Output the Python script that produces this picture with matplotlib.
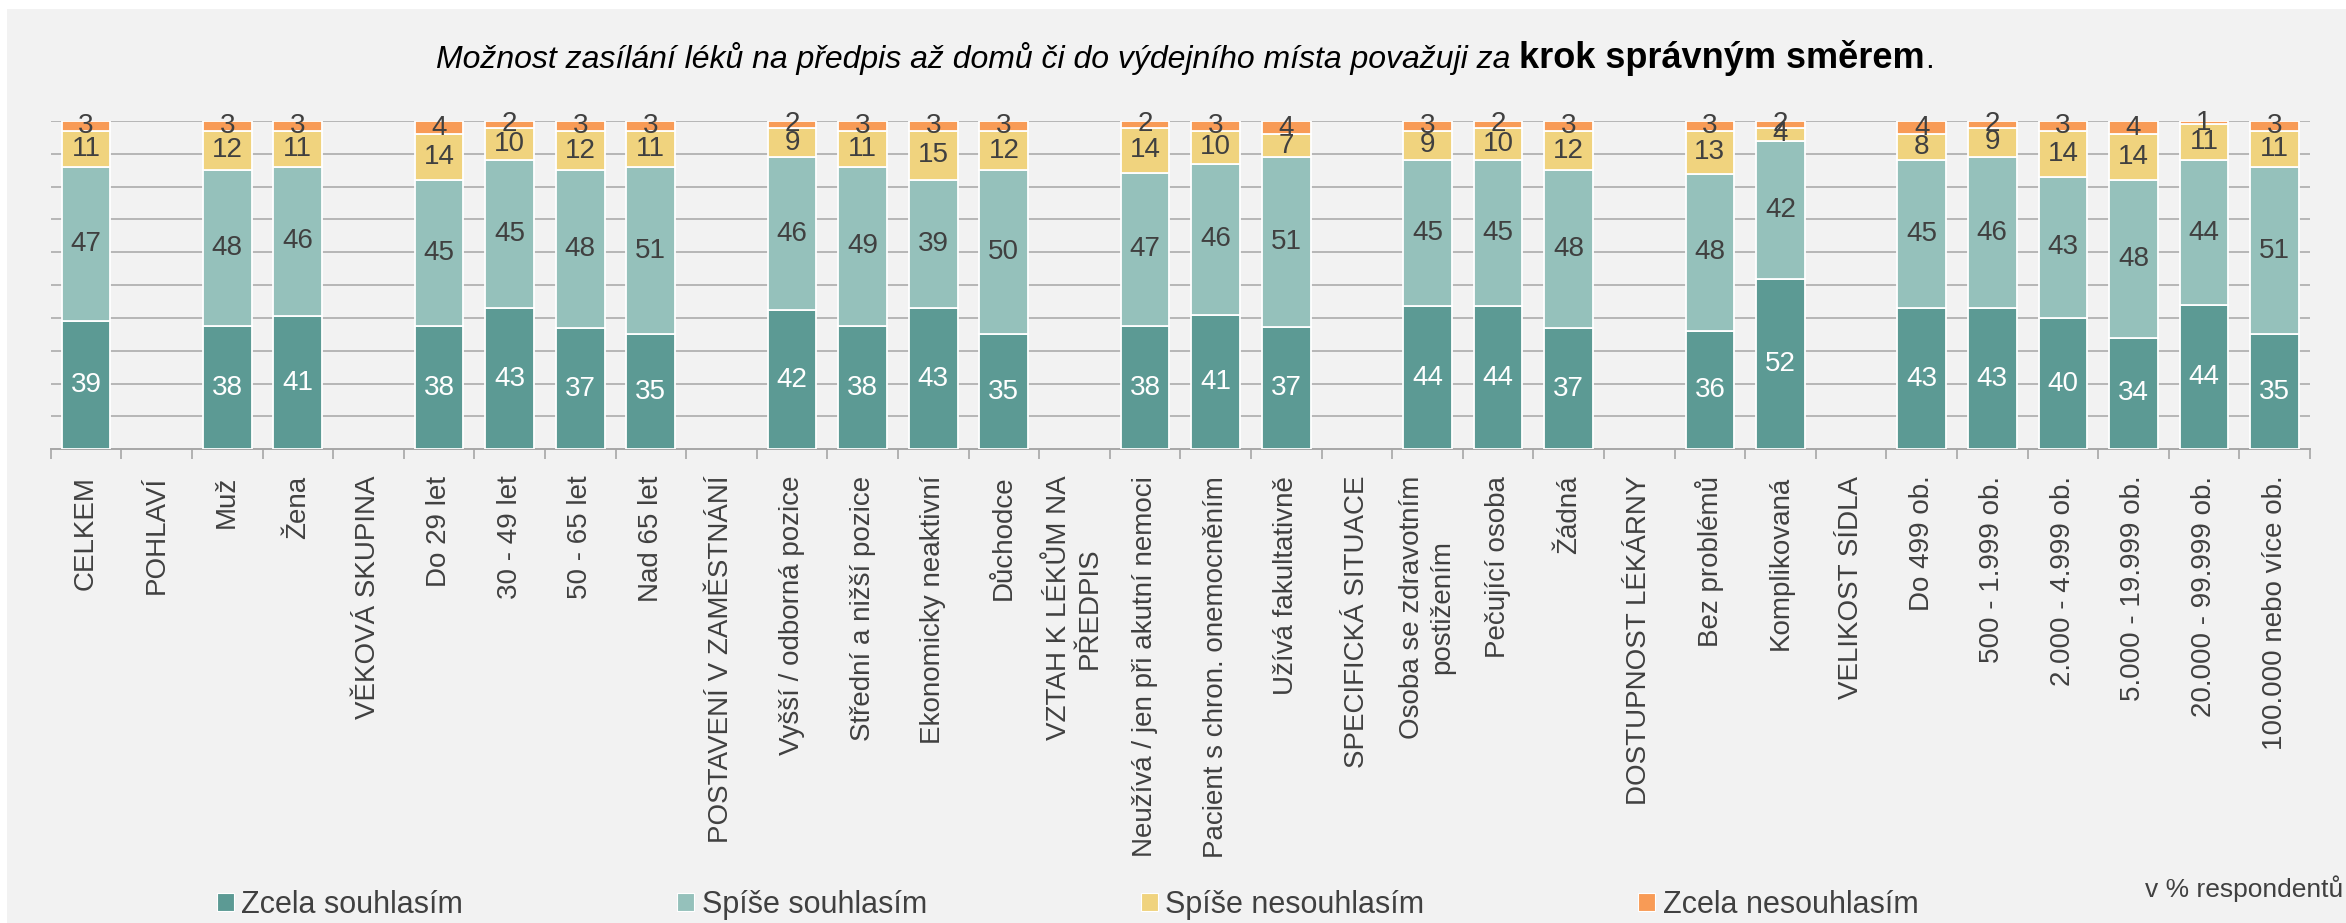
import numpy as np
import matplotlib
matplotlib.use("Agg")
import matplotlib.pyplot as plt
from matplotlib.patches import Patch, Rectangle

plt.rcParams['font.family'] = ['Liberation Sans', 'DejaVu Sans']

categories = [
    "CELKEM", "POHLAVÍ", "Muž", "Žena", "VĚKOVÁ SKUPINA",
    "Do 29 let", "30 - 49 let", "50 - 65 let", "Nad 65 let",
    "POSTAVENÍ V ZAMĚSTNÁNÍ", "Vyšší / odborná pozice", "Střední a nižší pozice",
    "Ekonomicky neaktivní", "Důchodce", "VZTAH K LÉKŮM NA\nPŘEDPIS",
    "Neužívá / jen při akutní nemoci", "Pacient s chron. onemocněním",
    "Užívá fakultativně", "SPECIFICKÁ SITUACE", "Osoba se zdravotním\npostižením",
    "Pečující osoba", "Žádná", "DOSTUPNOST LÉKÁRNY", "Bez problémů",
    "Komplikovaná", "VELIKOST SÍDLA", "Do 499 ob.", "500 - 1.999 ob.",
    "2.000 - 4.999 ob.", "5.000 - 19.999 ob.", "20.000 - 99.999 ob.",
    "100.000 nebo více ob.",
]
n = None  # section header, no bar
zcela_souhlasim = [39, n, 38, 41, n, 38, 43, 37, 35, n, 42, 38, 43, 35, n, 38, 41, 37,
                   n, 44, 44, 37, n, 36, 52, n, 43, 43, 40, 34, 44, 35]
spise_souhlasim = [47, n, 48, 46, n, 45, 45, 48, 51, n, 46, 49, 39, 50, n, 47, 46, 51,
                   n, 45, 45, 48, n, 48, 42, n, 45, 46, 43, 48, 44, 51]
spise_nesouhlasim = [11, n, 12, 11, n, 14, 10, 12, 11, n, 9, 11, 15, 12, n, 14, 10, 7,
                     n, 9, 10, 12, n, 13, 4, n, 8, 9, 14, 14, 11, 11]
zcela_nesouhlasim = [3, n, 3, 3, n, 4, 2, 3, 3, n, 2, 3, 3, 3, n, 2, 3, 4,
                     n, 3, 2, 3, n, 3, 2, n, 4, 2, 3, 4, 1, 3]

series_names = ["Zcela souhlasím", "Spíše souhlasím", "Spíše nesouhlasím", "Zcela nesouhlasím"]
colors = ["#5C9A94", "#95C1BB", "#F0D37E", "#F89B56"]
label_colors = ["white", "#404040", "#404040", "#404040"]

text_col = "#404040"
bg = "#F2F2F2"

W, H = 2346, 923
fig = plt.figure(figsize=(W / 100, H / 100), dpi=100)
fig.patch.set_facecolor("white")
fig.patches.append(Rectangle((7 / W, 0), 1, 1 - 9 / H, transform=fig.transFigure,
                             facecolor=bg, edgecolor="none", zorder=-10))

ax = fig.add_axes([50.7 / W, 1 - 449.3 / H, (2310 - 50.7) / W, (449.3 - 121) / H])
ax.set_facecolor(bg)

data = np.array([zcela_souhlasim, spise_souhlasim, spise_nesouhlasim, zcela_nesouhlasim],
                dtype=float)
totals = np.nansum(data, axis=0)
x = np.arange(len(categories))
bottom = np.zeros(len(categories))
for i in range(4):
    vals = data[i]
    mask = ~np.isnan(vals)
    h = np.where(mask, vals / np.where(totals == 0, 1, totals) * 100, 0)
    ax.bar(x[mask], h[mask], 0.69, bottom=bottom[mask], color=colors[i],
           edgecolor="white", linewidth=1.3, zorder=3)
    for xi in x[mask]:
        ax.text(xi, bottom[xi] + h[xi] / 2, f"{vals[xi]:.0f}", ha="center", va="center",
                fontsize=20, color=label_colors[i], zorder=4)
    bottom = bottom + h

ax.set_xlim(-0.5, len(categories) - 0.5)
ax.set_ylim(0, 100)
ax.set_yticks(np.arange(10, 101, 10))
ax.yaxis.grid(True, color="#A6A6A6", linewidth=1.1, zorder=0)
ax.tick_params(axis="y", length=0, labelleft=False)
for s in ["top", "right", "left"]:
    ax.spines[s].set_visible(False)
ax.spines["bottom"].set_color("#A6A6A6")
ax.spines["bottom"].set_linewidth(1.4)

ax.set_xticks(x)
ax.set_xticklabels(categories, rotation=90, fontsize=20, color=text_col,
                   multialignment="center")
ax.set_xticks(np.arange(-0.5, len(categories), 1), minor=True)
ax.tick_params(axis="x", which="major", length=0, pad=19)
ax.tick_params(axis="x", which="minor", length=7, width=1.2, color="#A6A6A6")

# title, mixed italic and bold
y_t = 1 - 68 / H
t1 = fig.text(0, y_t, "Možnost zasílání léků na předpis až domů či do výdejního místa považuji za ",
              fontsize=23, style="italic", color="black", va="baseline")
t2 = fig.text(0, y_t, "krok správným směrem", fontsize=26, weight="bold",
              color="black", va="baseline")
t3 = fig.text(0, y_t, ".", fontsize=23, color="black", va="baseline")
fig.canvas.draw()
r = fig.canvas.get_renderer()
widths = [t.get_window_extent(r).width for t in (t1, t2, t3)]
xs = 1185 - sum(widths) / 2
for t, w in zip((t1, t2, t3), widths):
    t.set_x(xs / W)
    xs += w

handles = [Patch(facecolor=c, edgecolor="white", linewidth=0.8) for c in colors]
fig.legend(handles, series_names, loc="center left", bbox_to_anchor=(217 / W, 1 - 905 / H),
           ncol=4, frameon=False, fontsize=22, labelcolor=text_col,
           handlelength=0.55, handleheight=0.55, handletextpad=0.25,
           columnspacing=7.0, borderpad=0, borderaxespad=0)

fig.text(2343 / W, 1 - 897 / H, "v % respondentů", fontsize=19, color=text_col,
         ha="right", va="baseline")

fig.savefig("out.png", dpi=100, facecolor=fig.get_facecolor())
